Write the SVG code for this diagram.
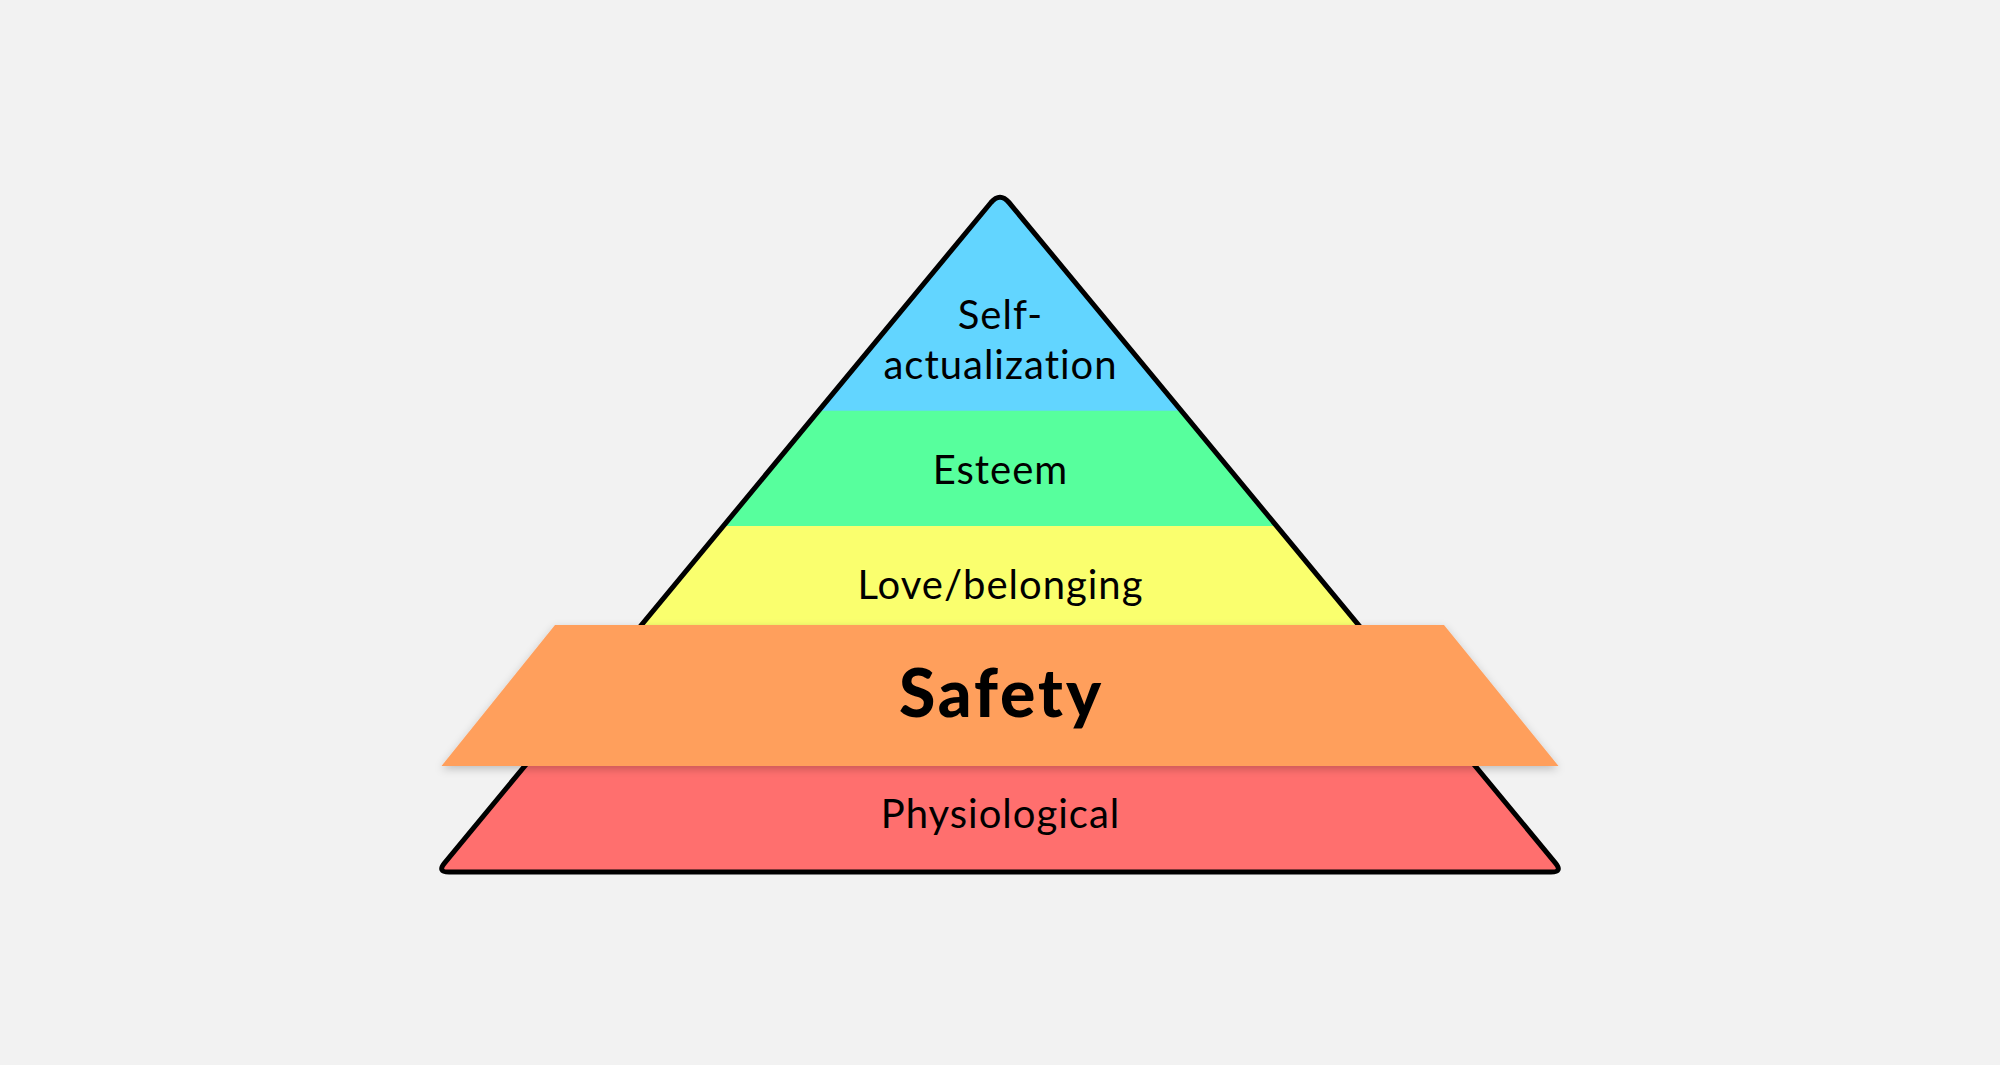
<svg xmlns="http://www.w3.org/2000/svg" width="2000" height="1065" viewBox="0 0 2000 1065">
  <style>
    .lbl { font-family: Lato, "Noto Sans", "Liberation Sans", sans-serif; font-size: 40px; letter-spacing: 1px; font-variant-ligatures: none; fill: #000; text-anchor: middle; }
    .big { font-family: Lato, "Noto Sans", "Liberation Sans", sans-serif; font-size: 66px; letter-spacing: 3px; font-weight: 900; fill: #000; text-anchor: middle; }
  </style>
  <defs>
    <clipPath id="tri">
      <path d="M991,202.5 Q1000,192 1009,202.5 L1555.3,862.8 Q1563,872 1551,872 L449,872 Q437,872 444.7,862.8 Z"/>
    </clipPath>
    <filter id="shadow" x="-10%" y="-20%" width="120%" height="150%">
      <feDropShadow dx="0" dy="3" stdDeviation="4" flood-color="#000" flood-opacity="0.22"/>
    </filter>
  </defs>
  <rect width="2000" height="1065" fill="#F2F2F2"/>

  <g clip-path="url(#tri)">
    <g id="self-actualization-band"><rect x="400" y="180" width="1200" height="231" fill="#62D5FF"/></g>
    <g id="esteem-band"><rect x="400" y="410.7" width="1200" height="115.3" fill="#57FF9D"/></g>
    <g id="love-band"><rect x="400" y="526" width="1200" height="140" fill="#FAFF6E"/></g>
    <g id="physiological-band"><rect x="400" y="666" width="1200" height="220" fill="#FF6F6E"/></g>
  </g>
  <path d="M991,202.5 Q1000,192 1009,202.5 L1555.3,862.8 Q1563,872 1551,872 L449,872 Q437,872 444.7,862.8 Z" fill="none" stroke="#000" stroke-width="5" stroke-linejoin="round"/>

  <g id="safety">
    <path d="M555,625 L1444,625 L1558.5,766 L441.5,766 Z" fill="#FF9F5C" filter="url(#shadow)"/>
    <text class="big" x="1001.5" y="716.7">Safety</text>
  </g>

  <g id="self-actualization">
    <text class="lbl" x="1000.5" y="329.3">Self-</text>
    <text class="lbl" x="1000.5" y="379.3">actualization</text>
  </g>
  <g id="esteem"><text class="lbl" x="1000.5" y="484">Esteem</text></g>
  <g id="love-belonging"><text class="lbl" x="1000.5" y="599.3">Love/belonging</text></g>
  <g id="physiological"><text class="lbl" x="1000.5" y="828.3">Physiological</text></g>
</svg>
